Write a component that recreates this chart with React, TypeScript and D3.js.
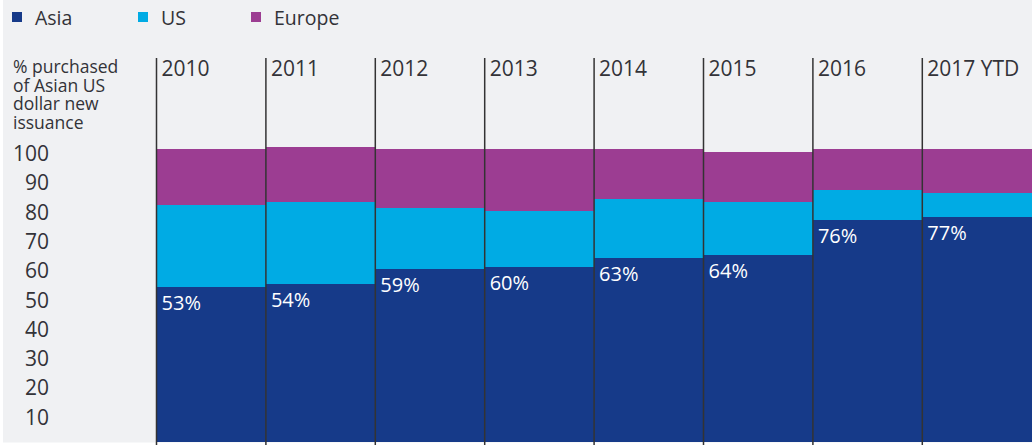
import React from "react";
import * as d3 from "d3";

const years = ["2010", "2011", "2012", "2013", "2014", "2015", "2016", "2017 YTD"];
const asia = [53, 54, 59, 60, 63, 64, 76, 77];
const us = [28, 28, 21, 19, 20, 18, 10, 8];
const europe = [19, 18.8, 20, 21, 17, 17.1, 14, 15];
const yTicks = [10, 20, 30, 40, 50, 60, 70, 80, 90, 100];
const seriesNames = ["Asia", "US", "Europe"];
const colors = ["#163a89", "#00abe4", "#9c3d92"];
const titleLines = ["% purchased", "of Asian US", "dollar new", "issuance"];

const W = 1035;
const H = 445;
const FONT = "'Open Sans', sans-serif";
const TEXT = "#333338";

export default function App() {
  const x = d3.scaleBand<string>().domain(years).range([156.5, 1031.7]).padding(0);
  const y = d3.scaleLinear().domain([0, 100]).range([442.3, 149.3]);

  const rows = years.map((yr, i) => ({ year: yr, Asia: asia[i], US: us[i], Europe: europe[i] }));
  const stack = d3.stack<any>().keys(seriesNames);
  const layers = stack(rows);

  const legendX = [12, 138, 251];

  return (
    <svg
      width={W}
      height={H}
      style={{ position: "absolute", left: 0, top: 0, fontFamily: FONT, fontWeight: 400 }}
    >
      <rect x={0} y={0} width={W} height={H} fill="#ffffff" />
      <rect x={3} y={0} width={1029} height={442.5} fill="#f0f1f3" />

      {/* legend */}
      {seriesNames.map((s, i) => (
        <g key={s}>
          <rect x={legendX[i]} y={12} width={10} height={10} fill={colors[i]} />
          <text x={legendX[i] + 23} y={25} fontSize={19.5} fill={TEXT}>
            {s}
          </text>
        </g>
      ))}

      {/* axis title */}
      <text x={13} y={73} fontSize={17.5} fill={TEXT}>
        {titleLines.map((l, i) => (
          <tspan key={l} x={13} dy={i === 0 ? 0 : 18.7}>
            {l}
          </tspan>
        ))}
      </text>

      {/* bars */}
      {layers.map((layer, li) => (
        <g key={seriesNames[li]}>
          {layer.map((d, i) => (
            <rect
              key={i}
              x={x(years[i])!}
              width={x.bandwidth()}
              y={y(d[1])}
              height={y(d[0]) - y(d[1])}
              fill={colors[li]}
              shapeRendering="crispEdges"
            />
          ))}
        </g>
      ))}

      {/* asia labels */}
      {asia.map((v, i) => (
        <text
          key={i}
          x={x(years[i])! + 5}
          y={y(v) + 23}
          fontSize={20}
          fill="#ffffff"
        >
          {v}%
        </text>
      ))}

      {/* y axis labels */}
      {yTicks.map((t) => (
        <text key={t} x={49} y={y(t) + 11.7} fontSize={21} fill={TEXT} textAnchor="end">
          {t}
        </text>
      ))}

      {/* separators + year labels */}
      {years.map((yr) => (
        <g key={yr}>
          <line
            x1={x(yr)!}
            x2={x(yr)!}
            y1={58}
            y2={H}
            stroke="#333333"
            strokeWidth={1.5}
          />
          <text x={x(yr)! + 5} y={76} fontSize={21} fill={TEXT}>
            {yr}
          </text>
        </g>
      ))}
    </svg>
  );
}
